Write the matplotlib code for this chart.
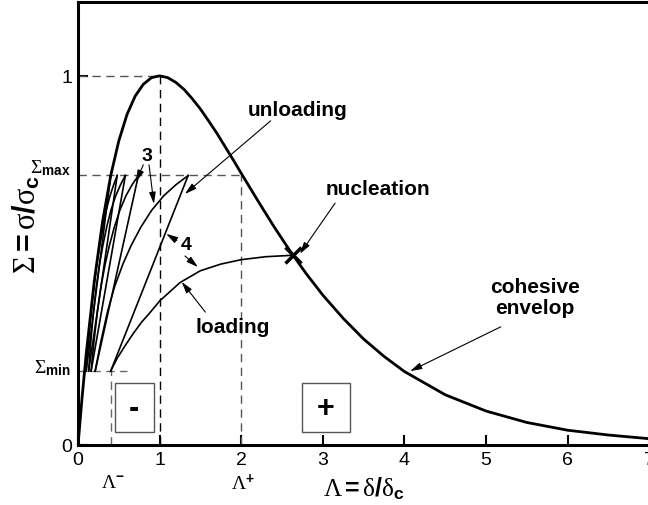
import matplotlib
matplotlib.use("Agg")
import matplotlib.pyplot as plt
from matplotlib.patches import Rectangle

plt.rcParams['font.family'] = ['Liberation Sans', 'DejaVu Sans']
plt.rcParams['mathtext.fontset'] = 'custom'
plt.rcParams['mathtext.rm'] = 'Liberation Serif'
plt.rcParams['mathtext.it'] = 'Liberation Serif:italic'
plt.rcParams['mathtext.bf'] = 'Liberation Sans:bold'
plt.rcParams['mathtext.sf'] = 'Liberation Sans'

# cohesive envelope
lam_env = [0, 0.05, 0.1, 0.2, 0.3, 0.4, 0.5, 0.6, 0.7, 0.8, 0.9, 1.0, 1.1, 1.2, 1.3,
           1.4, 1.5, 1.6, 1.7, 1.8, 1.9, 2.0, 2.2, 2.4, 2.6, 2.8, 3.0, 3.25, 3.5,
           3.75, 4.0, 4.5, 5.0, 5.5, 6.0, 6.5, 7.0]
sig_env = [0, 0.129, 0.246, 0.445, 0.604, 0.729, 0.824, 0.895, 0.945, 0.977, 0.995,
           1.0, 0.995, 0.982, 0.963, 0.938, 0.910, 0.878, 0.845, 0.809, 0.773, 0.736,
           0.663, 0.592, 0.525, 0.463, 0.406, 0.343, 0.287, 0.240, 0.199, 0.136,
           0.092, 0.061, 0.040, 0.027, 0.017]

sig_min = 0.20
sig_max = 0.73
lam_minus = 0.40
lam_plus = 2.0

# loading curves (all share the same Sigma levels)
sig_load = [0.20, 0.28, 0.36, 0.43, 0.49, 0.54, 0.59, 0.635, 0.675, 0.705, 0.73]
lam_load1 = [0.100, 0.128, 0.160, 0.195, 0.230, 0.265, 0.305, 0.345, 0.392, 0.437, 0.480]
lam_load2 = [0.130, 0.157, 0.189, 0.225, 0.264, 0.304, 0.351, 0.402, 0.462, 0.521, 0.580]
lam_load3 = [0.160, 0.195, 0.237, 0.282, 0.333, 0.384, 0.445, 0.511, 0.587, 0.663, 0.740]
lam_load4 = [0.21, 0.28, 0.36, 0.45, 0.55, 0.65, 0.77, 0.90, 1.05, 1.20, 1.35]

# last loading up to nucleation
lam_last = [0.40, 0.48, 0.58, 0.68, 0.78, 0.88, 1.0, 1.1, 1.25, 1.5, 1.75, 2.0, 2.3, 2.64]
sig_last = [0.20, 0.235, 0.27, 0.303, 0.333, 0.358, 0.39, 0.41, 0.44, 0.472, 0.49,
            0.502, 0.51, 0.514]

# unloading lines: from (top, sig_max) to (bottom, sig_min)
unload_top = [0.40, 0.48, 0.58, 0.74, 1.35]
unload_bot = [0.10, 0.13, 0.16, 0.21, 0.40]

nucl = (2.64, 0.514)

fig = plt.figure(figsize=(6.48, 5.06), dpi=100)
ax = fig.add_axes([0.1204, 0.1186, 0.8815, 0.8755])
ax.set_xlim(0, 7)
ax.set_ylim(0, 1.2)

# dashed guides
dash = dict(ls=(0, (6, 4)), lw=1.0)
ax.plot([0, 1], [1, 1], color='#555555', **dash)
ax.plot([1, 1], [0, 1], color='k', **dash)
ax.plot([0, lam_plus], [sig_max, sig_max], color='#555555', **dash)
ax.plot([lam_plus, lam_plus], [0, sig_max], color='#555555', **dash)
ax.plot([0, 0.6], [sig_min, sig_min], color='#666666', **dash)
ax.plot([lam_minus, lam_minus], [0, sig_min], color='#666666', **dash)

# cycles
for lams in [lam_load1, lam_load2, lam_load3, lam_load4]:
    ax.plot(lams, sig_load, color='k', lw=1.2)
for t, b in zip(unload_top, unload_bot):
    ax.plot([t, b], [sig_max, sig_min], color='k', lw=1.2)
ax.plot(lam_last, sig_last, color='k', lw=1.2)

ax.plot(lam_env, sig_env, color='k', lw=2.0)
ax.plot(*nucl, marker='x', color='k', ms=11, mew=2.5)

# +/- boxes
ax.add_patch(Rectangle((0.45, 0.035), 0.48, 0.133, fill=False, ec='#555555', lw=1.0))
ax.add_patch(Rectangle((2.74, 0.035), 0.59, 0.133, fill=False, ec='#555555', lw=1.0))
ax.text(0.69, 0.10, '-', ha='center', va='center', fontsize=22, fontweight='bold')
ax.text(3.035, 0.10, '+', ha='center', va='center', fontsize=22, fontweight='bold')

# annotations
arr = dict(arrowstyle='-|>,head_length=0.7,head_width=0.2', color='k', lw=0.8,
           shrinkA=0, shrinkB=0)

def arrow(tail, tip):
    ax.annotate('', xy=tip, xytext=tail, arrowprops=arr)

ax.text(2.69, 0.91, 'unloading', ha='center', va='center', fontsize=15, fontweight='bold')
arrow((2.36, 0.878), (1.31, 0.68))

ax.text(0.85, 0.785, '3', ha='center', va='center', fontsize=14, fontweight='bold')
arrow((0.80, 0.759), (0.71, 0.713))
arrow((0.87, 0.759), (0.93, 0.653))

ax.text(1.33, 0.542, '4', ha='center', va='center', fontsize=14, fontweight='bold')
arrow((1.21, 0.554), (1.08, 0.572))
arrow((1.31, 0.512), (1.47, 0.482))

ax.text(1.89, 0.322, 'loading', ha='center', va='center', fontsize=15, fontweight='bold')
arrow((1.56, 0.36), (1.27, 0.442))

ax.text(3.68, 0.695, 'nucleation', ha='center', va='center', fontsize=15, fontweight='bold')
arrow((3.15, 0.655), (2.72, 0.518))

ax.text(5.6, 0.40, 'cohesive\nenvelop', ha='center', va='center', fontsize=15,
        fontweight='bold', linespacing=1.15)
arrow((5.18, 0.32), (4.07, 0.20))

# axes styling
for s in ax.spines.values():
    s.set_linewidth(2.2)
ax.set_xticks(range(0, 8))
ax.set_yticks([0, 1])
ax.tick_params(direction='in', length=7, width=1.5, labelsize=14, pad=4)

ytr = ax.get_yaxis_transform()
xtr = ax.get_xaxis_transform()
ax.text(-0.012, sig_max + 0.022, r'$\mathrm{\Sigma}_{\mathbf{max}}$', transform=ytr,
        ha='right', va='center', fontsize=14)
ax.text(-0.012, sig_min + 0.012, r'$\mathrm{\Sigma}_{\mathbf{min}}$', transform=ytr,
        ha='right', va='center', fontsize=14)
ax.text(0.43, -0.085, r'$\mathrm{\Lambda}^{\mathbf{-}}$', transform=xtr,
        ha='center', va='center', fontsize=14)
ax.text(2.02, -0.085, r'$\mathrm{\Lambda}^{\mathbf{+}}$', transform=xtr,
        ha='center', va='center', fontsize=14)

ax.set_xlabel(r'$\mathrm{\Lambda}\mathbf{=}\mathrm{\delta}\mathbf{/}\mathrm{\delta}_{\mathbf{c}}$',
              fontsize=18)
ax.xaxis.set_label_coords(0.5, -0.066)
ax.set_ylabel(r'$\mathrm{\Sigma}\mathbf{=}\mathrm{\sigma}\mathbf{/}\mathrm{\sigma}_{\mathbf{c}}$',
              fontsize=22)
ax.yaxis.set_label_coords(-0.063, 0.5)

fig.savefig('out.png', dpi=100)
